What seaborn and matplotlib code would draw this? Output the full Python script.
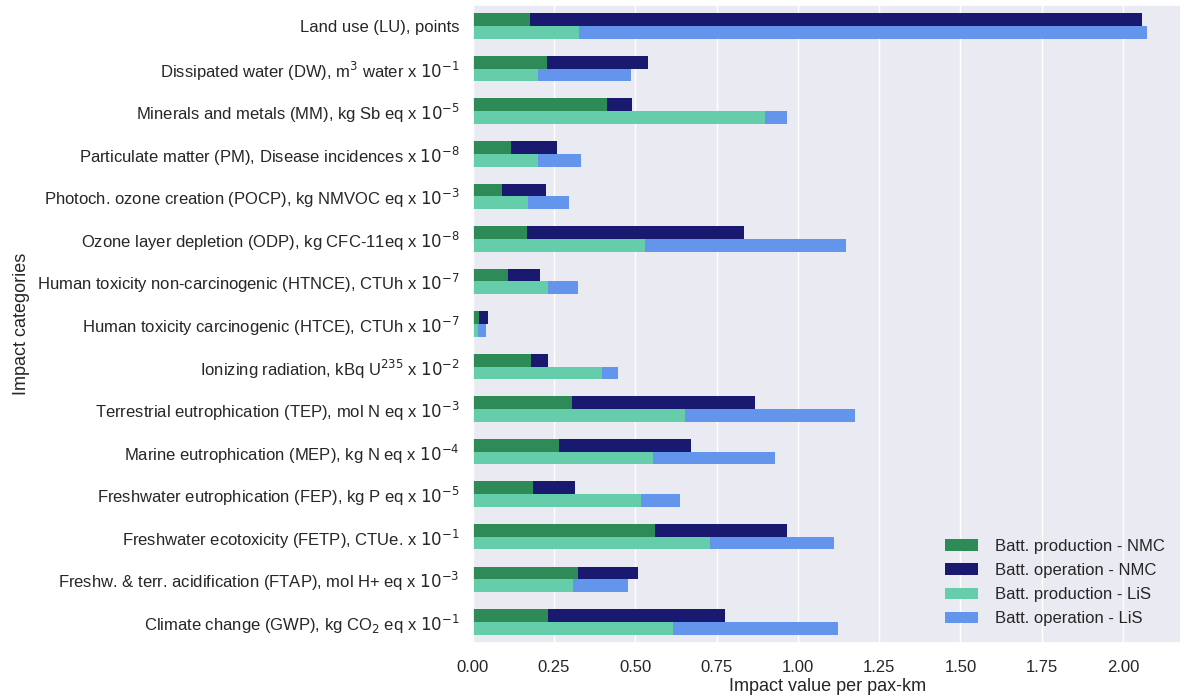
import pandas as pd
import matplotlib.pyplot as plt
import seaborn as sns

# Impact categories, top to bottom
categories = [
    'Land use (LU), points',
    'Dissipated water (DW), m$^3$ water x $10^{-1}$',
    'Minerals and metals (MM), kg Sb eq x $10^{-5}$',
    'Particulate matter (PM), Disease incidences x $10^{-8}$',
    'Photoch. ozone creation (POCP), kg NMVOC eq x $10^{-3}$',
    'Ozone layer depletion (ODP), kg CFC-11eq x $10^{-8}$',
    'Human toxicity non-carcinogenic (HTNCE), CTUh x $10^{-7}$',
    'Human toxicity carcinogenic (HTCE), CTUh x $10^{-7}$',
    'Ionizing radiation, kBq U$^{235}$ x $10^{-2}$',
    'Terrestrial eutrophication (TEP), mol N eq x $10^{-3}$',
    'Marine eutrophication (MEP), kg N eq x $10^{-4}$',
    'Freshwater eutrophication (FEP), kg P eq x $10^{-5}$',
    'Freshwater ecotoxicity (FETP), CTUe. x $10^{-1}$',
    'Freshw. & terr. acidification (FTAP), mol H+ eq x $10^{-3}$',
    'Climate change (GWP), kg CO$_2$ eq x $10^{-1}$',
]

# production share and total (production + operation) per battery
nmc_production = [0.177, 0.228, 0.414, 0.117, 0.090, 0.168, 0.109, 0.020,
                  0.178, 0.304, 0.264, 0.184, 0.559, 0.323, 0.231]
nmc_total = [2.060, 0.538, 0.490, 0.259, 0.225, 0.834, 0.207, 0.046,
             0.230, 0.867, 0.670, 0.313, 0.966, 0.507, 0.775]
lis_production = [0.327, 0.200, 0.898, 0.200, 0.171, 0.531, 0.230, 0.015,
                  0.398, 0.652, 0.554, 0.516, 0.731, 0.307, 0.616]
lis_total = [2.075, 0.488, 0.966, 0.333, 0.296, 1.149, 0.323, 0.040,
             0.447, 1.175, 0.931, 0.637, 1.110, 0.478, 1.122]

batteries = ['NMC', 'LiS']
legend_labels = ['Batt. production - NMC', 'Batt. operation - NMC',
                 'Batt. production - LiS', 'Batt. operation - LiS']

n = len(categories)
df = pd.DataFrame({
    'Category': categories * 2,
    'Battery': ['NMC'] * n + ['LiS'] * n,
    'Production': nmc_production + lis_production,
    'Total': nmc_total + lis_total,
})

sns.set_theme(style='darkgrid')
plt.rcParams['font.family'] = ['Liberation Sans', 'DejaVu Sans']

fig, ax = plt.subplots(figsize=(11.82, 6.96), dpi=100)

# operation drawn as full length, production painted over it
sns.barplot(data=df, x='Total', y='Category', hue='Battery', order=categories,
            hue_order=batteries, palette={'NMC': 'midnightblue', 'LiS': 'cornflowerblue'},
            saturation=1, width=0.6, orient='h', linewidth=0, ax=ax, legend=False)
sns.barplot(data=df, x='Production', y='Category', hue='Battery', order=categories,
            hue_order=batteries, palette={'NMC': 'seagreen', 'LiS': 'mediumaquamarine'},
            saturation=1, width=0.6, orient='h', linewidth=0, ax=ax, legend=False)

ax.set_xlim(0, 2.18)
ax.set_ylim(n - 0.5, -0.5)
ax.set_xticks([0, 0.25, 0.5, 0.75, 1.0, 1.25, 1.5, 1.75, 2.0])
ax.set_xticklabels(['0.00', '0.25', '0.50', '0.75', '1.00', '1.25', '1.50', '1.75', '2.00'])
ax.tick_params(axis='both', labelsize=12)
ax.tick_params(axis='x', pad=6)
ax.set_xlabel('Impact value per pax-km', fontsize=13, labelpad=2)
ax.set_ylabel('Impact categories', fontsize=13, labelpad=5)

c = ax.containers
ax.legend([c[2], c[0], c[3], c[1]], legend_labels, loc='lower right',
          frameon=False, fontsize=12, handlelength=2.0, handletextpad=1.0,
          labelspacing=0.55, borderaxespad=0.6)

fig.subplots_adjust(left=0.400, right=0.9995, top=0.993, bottom=0.076)
fig.savefig('out.png', dpi=100)
